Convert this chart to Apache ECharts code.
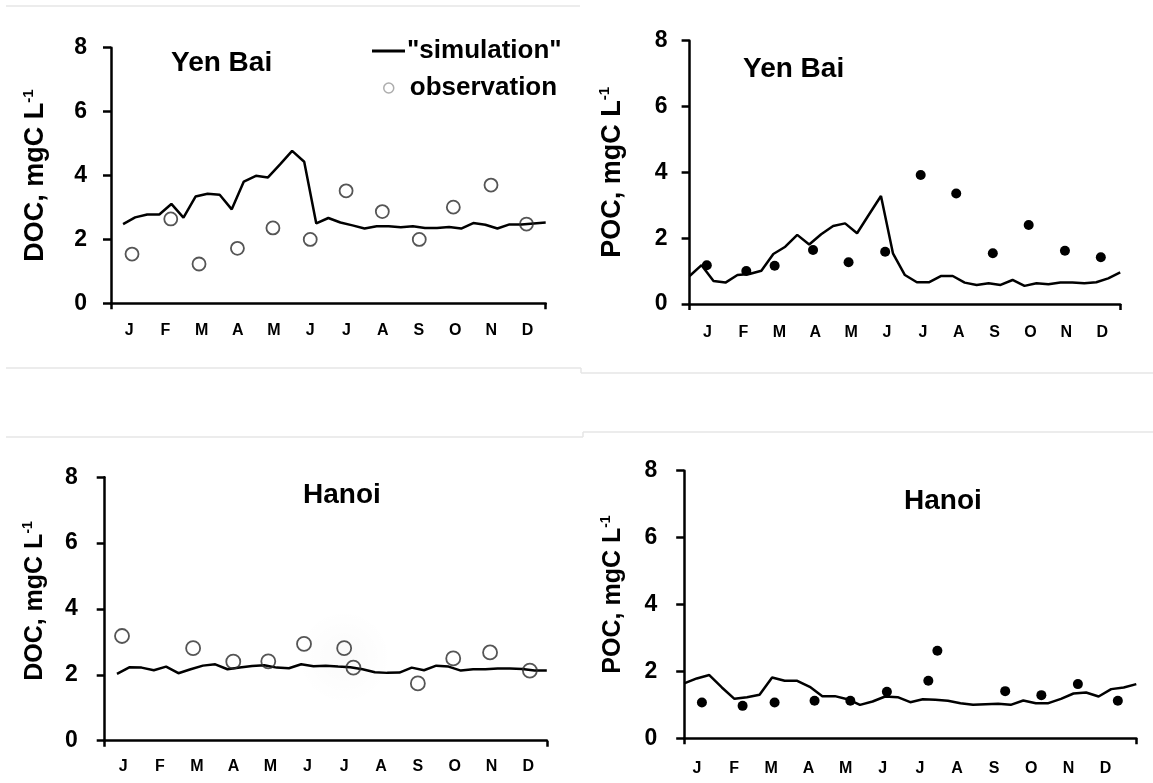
<!DOCTYPE html>
<html>
<head>
<meta charset="utf-8">
<script src="https://cdn.jsdelivr.net/npm/echarts@6/dist/echarts.min.js"></script>
<style>html,body{margin:0;padding:0;background:#fff}#c{width:1153px;height:783px}</style>
</head>
<body>
<div id="c"></div>
<script>
// ---------- data ----------
const months = ['J','F','M','A','M','J','J','A','S','O','N','D'];

// simulated values, one per 10-day period (dekad); first dekad index given separately
const simYenBaiDOC = [2.48,2.69,2.78,2.78,3.11,2.68,3.34,3.43,3.40,2.94,3.81,3.99,3.94,4.35,4.77,4.43,2.50,2.67,2.53,2.44,2.34,2.41,2.41,2.38,2.41,2.36,2.36,2.39,2.34,2.51,2.46,2.34,2.47,2.47,2.50,2.53];
const simYenBaiPOC = [0.85,1.18,0.70,0.65,0.88,0.91,1.01,1.52,1.74,2.10,1.81,2.12,2.37,2.45,2.15,2.72,3.28,1.54,0.88,0.66,0.66,0.85,0.85,0.65,0.58,0.63,0.58,0.73,0.55,0.63,0.60,0.65,0.65,0.63,0.66,0.78,0.96];
const simHanoiDOC = [2.03,2.23,2.22,2.14,2.25,2.05,2.17,2.28,2.32,2.17,2.22,2.27,2.29,2.22,2.20,2.32,2.26,2.28,2.25,2.23,2.17,2.08,2.06,2.07,2.22,2.14,2.28,2.25,2.13,2.17,2.17,2.19,2.19,2.18,2.13,2.13];
const simHanoiPOC = [1.64,1.79,1.89,1.52,1.18,1.23,1.30,1.82,1.72,1.72,1.54,1.26,1.26,1.17,1.00,1.10,1.25,1.23,1.08,1.17,1.15,1.12,1.05,1.00,1.02,1.03,1.00,1.13,1.05,1.05,1.18,1.34,1.37,1.25,1.47,1.52,1.62];

// observations: time in months from 1 Jan, and value
const obsYenBaiDOCTime = [0.58,1.65,2.43,3.49,4.47,5.50,6.49,7.49,8.51,9.45,10.49,11.47];
const obsYenBaiDOC     = [1.54,2.64,1.23,1.72,2.36,2.00,3.52,2.87,2.00,3.01,3.70,2.48];
const obsYenBaiPOCTime = [0.48,1.58,2.37,3.44,4.43,5.45,6.44,7.43,8.45,9.45,10.46,11.46];
const obsYenBaiPOC     = [1.18,1.00,1.16,1.64,1.27,1.59,3.92,3.36,1.54,2.40,1.62,1.42];
const obsHanoiDOCTime  = [0.47,2.40,3.49,4.44,5.41,6.50,6.75,8.50,9.46,10.46,11.54];
const obsHanoiDOC      = [3.18,2.81,2.40,2.41,2.94,2.81,2.22,1.74,2.50,2.68,2.13];
const obsHanoiPOCTime  = [0.47,1.55,2.40,3.46,4.41,5.38,6.48,6.72,8.52,9.48,10.45,11.51];
const obsHanoiPOC      = [1.07,0.97,1.07,1.12,1.12,1.39,1.72,2.62,1.41,1.29,1.62,1.12];

// ---------- layout ----------
const FONT = "'Liberation Sans', Arial, sans-serif";
const panels = [
  {grid:{left:111,top:47.7,width:434.7,height:255.6}, lab:{left:111,width:434.7},
   yname:'DOC, mgC L', nameSize:27, nameGap:60, namePad:[0,0,0,0], tickMargin:24, monthMargin:19,
   title:{text:'Yen Bai',left:171,top:49},
   sim:simYenBaiDOC, simStart:1, obsT:obsYenBaiDOCTime, obsV:obsYenBaiDOC, open:true, size:13,
   simName:'"simulation"', obsName:'observation'},
  {grid:{left:689.6,top:40.7,width:430.6,height:263.3}, lab:{left:689.6,width:430.6},
   yname:'POC, mgC L', nameSize:27, nameGap:62, namePad:[0,0,0,0], tickMargin:22, monthMargin:21,
   title:{text:'Yen Bai',left:743,top:55},
   sim:simYenBaiPOC, simStart:0, obsT:obsYenBaiPOCTime, obsV:obsYenBaiPOC, open:false, size:10,
   simName:'simulation POC Yen Bai', obsName:'observation POC Yen Bai'},
  {grid:{left:104.7,top:477.3,width:442.1,height:263.4}, lab:{left:104.7,width:442.1},
   yname:'DOC, mgC L', nameSize:25, nameGap:56, namePad:[0,0,0,16], tickMargin:27, monthMargin:18,
   title:{text:'Hanoi',left:303,top:481},
   sim:simHanoiDOC, simStart:1, obsT:obsHanoiDOCTime, obsV:obsHanoiDOC, open:true, size:14,
   simName:'simulation DOC Hanoi', obsName:'observation DOC Hanoi'},
  {grid:{left:684.2,top:470.7,width:452.1,height:267.6}, lab:{left:678.4,width:445.8},
   yname:'POC, mgC L', nameSize:25, nameGap:57, namePad:[0,0,0,20], tickMargin:27, monthMargin:22,
   title:{text:'Hanoi',left:904,top:487},
   sim:simHanoiPOC, simStart:0, obsT:obsHanoiPOCTime, obsV:obsHanoiPOC, open:false, size:10,
   simName:'simulation POC Hanoi', obsName:'observation POC Hanoi'}
];

const grids = [], xAxes = [], yAxes = [], series = [], titles = [];
const axisStyle = {color:'#000', width:2.5};
panels.forEach((p, i) => {
  grids.push(Object.assign({}, p.grid));
  grids.push({left:p.lab.left, width:p.lab.width, top:p.grid.top, height:p.grid.height});
  const gData = 2*i, gLab = 2*i + 1;
  xAxes.push({gridIndex:gData, type:'value', min:0, max:12, interval:12, position:'bottom',
    axisLine:{show:true, lineStyle:axisStyle}, axisTick:{show:true, length:6, lineStyle:axisStyle},
    axisLabel:{show:false}, splitLine:{show:false}});
  xAxes.push({gridIndex:gLab, type:'category', data:months, boundaryGap:true, position:'bottom',
    axisLine:{show:false}, axisTick:{show:false}, splitLine:{show:false},
    axisLabel:{interval:0, fontSize:16, fontWeight:'bold', color:'#000', fontFamily:FONT, margin:p.monthMargin}});
  yAxes.push({gridIndex:gData, type:'value', min:0, max:8, interval:2,
    axisLine:{show:true, lineStyle:axisStyle}, axisTick:{show:true, length:8, lineStyle:axisStyle},
    splitLine:{show:false},
    axisLabel:{fontSize:23, fontWeight:'bold', color:'#000', fontFamily:FONT, margin:p.tickMargin},
    name:'{b|' + p.yname + '}{s|-1}', nameLocation:'middle', nameGap:p.nameGap,
    nameTextStyle:{padding:p.namePad, rich:{
      b:{fontSize:p.nameSize, fontWeight:'bold', color:'#000', fontFamily:FONT, lineHeight:p.nameSize+3},
      s:{fontSize:Math.round(p.nameSize*0.55), fontWeight:'bold', color:'#000', fontFamily:FONT, verticalAlign:'top', lineHeight:Math.round(p.nameSize*0.55)}
    }}});
  yAxes.push({gridIndex:gLab, type:'value', min:0, max:8, show:false});
  titles.push({text:p.title.text, left:p.title.left, top:p.title.top, padding:0,
    textStyle:{fontSize:28, fontWeight:'bold', color:'#000', fontFamily:FONT, lineHeight:28}});
  series.push({name:p.simName, type:'line', xAxisIndex:2*i, yAxisIndex:2*i,
    data:p.sim.map((v, k) => [(p.simStart + k)/3, v]),
    symbol:'none', lineStyle:{color:'#000', width:2.5}, itemStyle:{color:'#000'}, z:2, silent:true});
  series.push({name:p.obsName, type:'scatter', xAxisIndex:2*i, yAxisIndex:2*i,
    data:p.obsT.map((t, k) => [t, p.obsV[k]]),
    symbol:'circle', symbolSize:p.size,
    itemStyle: p.open ? {color:'rgba(255,255,255,0)', borderColor:'#2a2a2a', borderWidth:1.8}
                      : {color:'#000', borderWidth:0, opacity:1},
    z:3, silent:true});
});

const sep = '#e6e6e6';
const seg = (x1,y1,x2,y2) => ({type:'line', shape:{x1,y1,x2,y2}, style:{stroke:sep, lineWidth:1.5}, silent:true, z:-1});

const option = {
  animation:false,
  backgroundColor:'#fff',
  title:titles,
  grid:grids,
  xAxis:xAxes,
  yAxis:yAxes,
  legend:[
    {data:[{name:'"simulation"', icon:'rect', itemStyle:{color:'#000'}}], left:372, top:36, padding:0,
     itemWidth:33, itemHeight:3, selectedMode:false,
     textStyle:{fontSize:26, fontWeight:'bold', color:'#000', fontFamily:FONT, lineHeight:30, padding:[0,0,0,-3]}},
    {data:[{name:'observation', icon:'circle', itemStyle:{color:'#fff', borderColor:'#999', borderWidth:1.5}}], left:383, top:73, padding:0,
     itemWidth:10, itemHeight:10, selectedMode:false,
     textStyle:{fontSize:26, fontWeight:'bold', color:'#000', fontFamily:FONT, lineHeight:30, padding:[0,0,0,11]}}
  ],
  graphic:[
    seg(6,6,580,6),
    seg(6,368,581,368), seg(581,368,581,373), seg(581,373,1153,373),
    seg(6,437,583,437), seg(583,432,583,437), seg(583,432,1153,432),
    {type:'circle', shape:{cx:344, cy:657, r:48}, silent:true, z:-1,
     style:{fill:{type:'radial', x:0.5, y:0.5, r:0.5,
       colorStops:[{offset:0,color:'rgba(0,0,0,0.02)'},{offset:1,color:'rgba(0,0,0,0)'}]}}}
  ],
  series:series
};

const chart = echarts.init(document.getElementById('c'), null, {renderer:'canvas'});
chart.setOption(option);
</script>
</body>
</html>
